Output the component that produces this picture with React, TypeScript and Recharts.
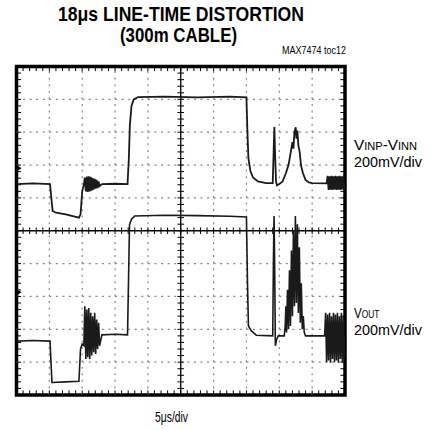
import React from 'react';
import { LineChart, Line, XAxis, YAxis, ReferenceLine, ReferenceArea, ReferenceDot } from 'recharts';

// time in divisions (5us/div), level in divisions (200mV/div), 0 = screen centre
const inpT = [
  0, 0.5, 1.02, 1.06, 1.1, 1.2, 1.5, 1.9, 1.95, 2.0, 2.05,
  2.08, 2.11, 2.14, 2.17, 2.2, 2.23, 2.26, 2.29, 2.32, 2.35, 2.38, 2.41, 2.44, 2.47, 2.5, 2.53,
  2.6, 3.0, 3.38, 3.42, 3.45, 3.5, 3.57, 3.7, 4.5, 5.5, 6.5, 7.0,
  7.03, 7.06, 7.12, 7.2, 7.35, 7.6, 7.8, 7.83, 7.85, 7.87, 7.9, 7.93, 8.0,
  8.1, 8.2, 8.28, 8.35, 8.4, 8.43, 8.46, 8.5, 8.52, 8.55, 8.58, 8.62, 8.66, 8.72, 8.8, 8.9, 9.0, 9.44,
  9.47, 9.5, 9.53, 9.56, 9.59, 9.62, 9.65, 9.68, 9.71, 9.74, 9.77, 9.8, 9.83, 9.86, 9.89, 9.92, 9.95, 9.98, 10,
];
const inpV = [
  1.42, 1.44, 1.42, 1.0, 0.6, 0.55, 0.5, 0.4, 0.5, 1.2, 1.4,
  1.62, 1.2, 1.65, 1.18, 1.66, 1.2, 1.64, 1.22, 1.6, 1.25, 1.58, 1.28, 1.55, 1.3, 1.5, 1.36,
  1.42, 1.43, 1.42, 2.2, 3.2, 3.8, 4.0, 4.07, 4.08, 4.06, 4.08, 4.06,
  3.0, 2.2, 1.82, 1.62, 1.5, 1.45, 1.45, 2.5, 3.16, 2.4, 1.5, 1.38, 1.42,
  1.5, 1.75, 2.0, 2.4, 2.7, 2.5, 3.0, 3.15, 2.8, 3.05, 2.6, 2.4, 2.0, 1.75, 1.55, 1.47, 1.45, 1.44,
  1.67, 1.24, 1.66, 1.25, 1.67, 1.24, 1.66, 1.26, 1.67, 1.24, 1.66, 1.25, 1.67, 1.24, 1.66, 1.26, 1.67, 1.24, 1.45,
];

const outT = [
  0, 0.5, 1.02, 1.05, 1.08, 1.5, 1.9, 1.95, 2.0, 2.05,
  2.08, 2.11, 2.14, 2.17, 2.2, 2.23, 2.26, 2.29, 2.32, 2.35, 2.38, 2.41, 2.44, 2.47, 2.5, 2.53,
  2.6, 3.0, 3.38, 3.41, 3.44, 3.5, 3.6, 4.5, 5.5, 6.5, 7.0,
  7.03, 7.06, 7.15, 7.3, 7.8, 7.82, 7.84, 7.86, 7.88, 7.92, 7.97, 8.15, 8.18,
  8.2, 8.22, 8.25, 8.28, 8.31, 8.34, 8.37, 8.4, 8.43, 8.46, 8.49, 8.52, 8.55, 8.58, 8.61, 8.64, 8.67, 8.7, 8.73, 8.76,
  8.8, 9.38,
  9.41, 9.44, 9.47, 9.5, 9.53, 9.56, 9.59, 9.62, 9.65, 9.68, 9.71, 9.74, 9.77, 9.8, 9.83, 9.86, 9.89, 9.92, 9.95, 9.98, 10,
];
const outV = [
  -3.36, -3.34, -3.36, -4.0, -4.62, -4.6, -4.58, -3.6, -3.45, -3.5,
  -2.3, -3.9, -2.4, -3.85, -2.35, -3.9, -2.5, -3.8, -2.6, -3.7, -2.5, -3.75, -2.7, -3.6, -2.8, -3.5,
  -3.17, -3.15, -3.17, -1.5, 0.18, 0.35, 0.45, 0.47, 0.46, 0.44, 0.42,
  -1.5, -2.9, -3.05, -3.18, -3.2, -1.0, 0.45, -1.2, -3.5, -3.3, -3.2, -3.2, -2.9,
  -2.3, -3.1, -1.8, -3.0, -1.2, -2.9, -0.6, -2.6, 0.0, -2.3, 0.45, -2.2, 0.2, -2.5, -0.5, -2.8, -1.6, -3.0, -2.6, -3.1,
  -3.2, -3.2,
  -2.5, -4.0, -2.55, -3.95, -2.5, -4.02, -2.6, -3.9, -2.5, -4.0, -2.55, -3.95, -2.5, -4.02, -2.6, -3.9, -2.5, -4.0, -2.6, -3.9, -3.2,
];

// ground markers on the left edge
const markerLevels = [1.9, -1.87];

const divisions = [1, 2, 3, 4, 6, 7, 8, 9];
const minorTicks = Array.from({ length: 51 }, (_, i) => i * 0.2);

const inpData = inpT.map((t, i) => ({ t, v: inpV[i] }));
const outData = outT.map((t, i) => ({ t, v: outV[i] }));

const FONT = "'Liberation Sans Narrow', 'Arial Narrow', 'Liberation Sans', sans-serif";
const dots = '2 4.57';

const Marker = (p: any) => (
  <path d={`M${p.cx - 1},${p.cy - 4} L${p.cx + 5},${p.cy} L${p.cx - 1},${p.cy + 4} Z`} fill="#000" />
);

export default function App() {
  return (
    <div style={{ position: 'absolute', left: 0, top: 0, width: 437, height: 430, background: '#fff' }}>
      <LineChart width={437} height={430} margin={{ top: 66.5, right: 92, bottom: 35, left: 16.5 }}>
        <XAxis type="number" dataKey="t" domain={[0, 10]} hide allowDataOverflow />
        <YAxis type="number" domain={[-5, 5]} hide allowDataOverflow />
        {divisions.map((d) => (
          <ReferenceLine key={'gx' + d} x={d} stroke="#888" strokeWidth={1.2} strokeDasharray={dots} />
        ))}
        {divisions.map((d) => (
          <ReferenceLine key={'gy' + d} y={d - 5} stroke="#888" strokeWidth={1.2} strokeDasharray={dots} />
        ))}
        <ReferenceLine x={5} stroke="#000" strokeWidth={1.3} />
        <ReferenceLine y={0} stroke="#000" strokeWidth={1.3} />
        {minorTicks.map((m) => (
          <ReferenceLine key={'cx' + m} segment={[{ x: m, y: -0.1 }, { x: m, y: 0.1 }]} stroke="#000" strokeWidth={1} />
        ))}
        {minorTicks.map((m) => (
          <ReferenceLine key={'cy' + m} segment={[{ x: 4.9, y: m - 5 }, { x: 5.1, y: m - 5 }]} stroke="#000" strokeWidth={1} />
        ))}
        {minorTicks.map((m) => (
          <ReferenceLine key={'tx' + m} segment={[{ x: m, y: 5 }, { x: m, y: 4.86 }]} stroke="#000" strokeWidth={1} />
        ))}
        {minorTicks.map((m) => (
          <ReferenceLine key={'bx' + m} segment={[{ x: m, y: -5 }, { x: m, y: -4.86 }]} stroke="#000" strokeWidth={1} />
        ))}
        {minorTicks.map((m) => (
          <ReferenceLine key={'ly' + m} segment={[{ x: 0, y: m - 5 }, { x: 0.14, y: m - 5 }]} stroke="#000" strokeWidth={1} />
        ))}
        {minorTicks.map((m) => (
          <ReferenceLine key={'ry' + m} segment={[{ x: 10, y: m - 5 }, { x: 9.86, y: m - 5 }]} stroke="#000" strokeWidth={1} />
        ))}
        <Line data={inpData} dataKey="v" type="linear" stroke="#1a1a1a" strokeWidth={1.8} dot={false} isAnimationActive={false} />
        <Line data={outData} dataKey="v" type="linear" stroke="#1a1a1a" strokeWidth={1.6} dot={false} isAnimationActive={false} />
        {markerLevels.map((l) => (
          <ReferenceDot key={'m' + l} x={0} y={l} r={4} shape={Marker} />
        ))}
        <ReferenceArea x1={0} x2={10} y1={-5} y2={5} fill="none" stroke="#000" strokeWidth={3.5} />
      </LineChart>
      <svg width={437} height={430} style={{ position: 'absolute', left: 0, top: 0, pointerEvents: 'none' }}>
        <g fontFamily={FONT} fill="#000">
          <text x={58} y={21} fontSize={20.5} fontWeight="bold" textLength={246} lengthAdjust="spacingAndGlyphs">
            18μs LINE-TIME DISTORTION
          </text>
          <text x={120} y={42} fontSize={20.5} fontWeight="bold" textLength={117} lengthAdjust="spacingAndGlyphs">
            (300m CABLE)
          </text>
          <text x={282} y={54} fontSize={10} textLength={64} lengthAdjust="spacingAndGlyphs">
            MAX7474 toc12
          </text>
          <text x={354} y={150} fontSize={14.5} textLength={63} lengthAdjust="spacingAndGlyphs">
            V<tspan fontSize={10.5}>INP</tspan>-V<tspan fontSize={10.5}>INN</tspan>
          </text>
          <text x={354} y={167} fontSize={14.5} textLength={68} lengthAdjust="spacingAndGlyphs">
            200mV/div
          </text>
          <text transform="translate(354,318) scale(0.8,1)" fontSize={14.5}>
            V<tspan fontSize={10.5}>OUT</tspan>
          </text>
          <text x={354} y={335} fontSize={14.5} textLength={68} lengthAdjust="spacingAndGlyphs">
            200mV/div
          </text>
          <text x={155} y={422} fontSize={14.5} textLength={33} lengthAdjust="spacingAndGlyphs">
            5μs/div
          </text>
        </g>
      </svg>
    </div>
  );
}
